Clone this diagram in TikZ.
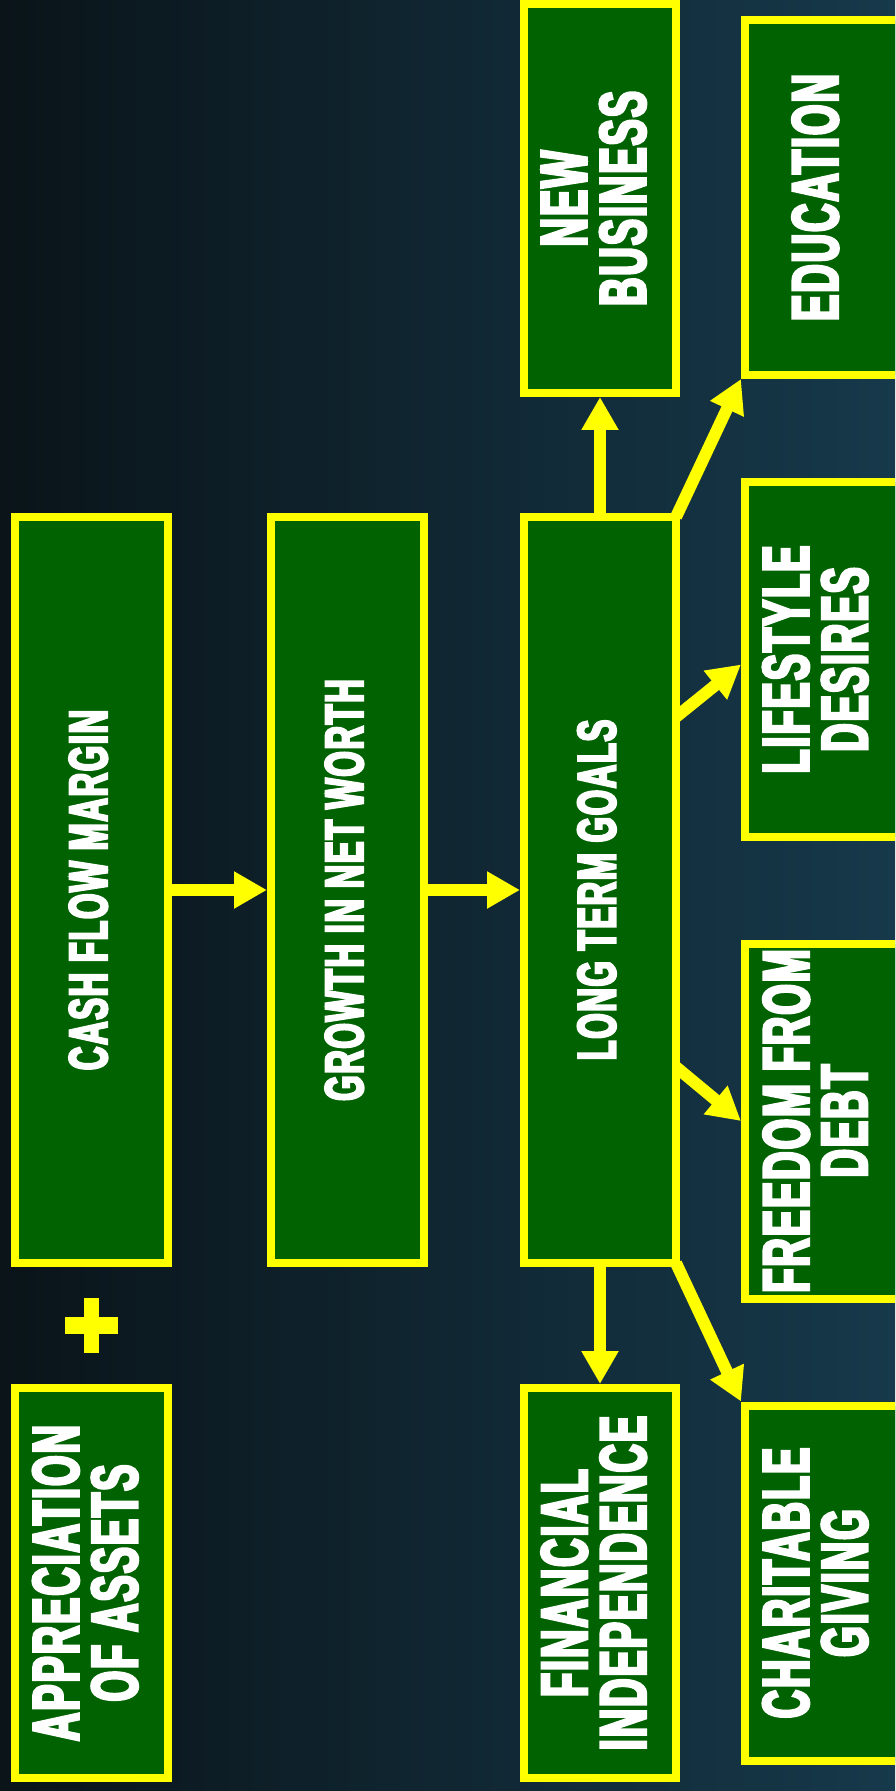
\documentclass[tikz,border=0pt]{standalone}
\usepackage{graphicx}
\usepackage{fontspec}
\usetikzlibrary{arrows.meta}
\newfontfamily\imp{Liberation Sans}[UprightFont=* Bold, FakeStretch=0.6, FakeBold=4, LetterSpace=3]
\definecolor{bgL}{HTML}{0A1419}
\definecolor{bgR}{HTML}{16394B}
\definecolor{boxgreen}{HTML}{006200}
\definecolor{boxyellow}{HTML}{FFFF00}
\renewcommand\arraystretch{0.722}
\newcommand\vbig[2][0pt]{{\imp\fontsize{32.8}{30}\selectfont\rotatebox{90}{\begin{tabular}{@{}c@{}}#2\end{tabular}}\hspace*{#1}}}
\newcommand\vsmall[1]{{\imp\fontsize{27.2}{16}\selectfont\rotatebox{90}{\begin{tabular}{@{}c@{}}#1\end{tabular}}}}
\tikzset{
  box/.style={draw=boxyellow, fill=boxgreen, line width=4pt, inner sep=0pt, text=white},
  arr/.style={draw=boxyellow, line width=6pt, -{Triangle[width=17.5pt,length=16.5pt]}}
}
\begin{document}
\begin{tikzpicture}[x=0.5pt, y=-0.5pt]
\useasboundingbox (0,0) rectangle (895,1791);
\clip (0,0) rectangle (895,1791);
\shade[left color=bgL, right color=bgR] (0,0) rectangle (895,1791);
% main column
\node[box, minimum width=76.5pt, minimum height=373pt] (cash) at (91.5,890) {\vsmall{CASH FLOW MARGIN}};
\node[box, minimum width=76.5pt, minimum height=373pt] (growth) at (347.5,890) {\vsmall{GROWTH IN NET WORTH}};
\node[box, minimum width=76pt, minimum height=373pt] (ltg) at (600,890) {\vsmall{LONG TERM GOALS}};
\node[box, minimum width=76pt, minimum height=194.5pt] (nb) at (600,198.5) {\vbig{NEW\\BUSINESS}};
\node[box, minimum width=76pt, minimum height=195pt] (fi) at (600,1583) {\vbig{FINANCIAL\\INDEPENDENCE}};
\node[box, minimum width=76.5pt, minimum height=195pt] (app) at (91.5,1583) {\vbig{APPRECIATION\\OF ASSETS}};
% right column
\node[box, minimum width=85pt, minimum height=177.5pt] (edu) at (830,197.5) {\vbig[8.5pt]{EDUCATION}};
\node[box, minimum width=85pt, minimum height=177.5pt] (life) at (830,659.5) {\vbig[8.5pt]{LIFESTYLE\\DESIRES}};
\node[box, minimum width=85pt, minimum height=177.5pt] (free) at (830,1121) {\vbig[8.5pt]{FREEDOM FROM\\DEBT}};
\node[box, minimum width=85pt, minimum height=177.5pt] (char) at (830,1583) {\vbig[8.5pt]{CHARITABLE\\GIVING}};
% plus sign
\fill[boxyellow] (65,1317) rectangle (118,1334);
\fill[boxyellow] (84,1298) rectangle (99,1353);
% connectors
\draw[arr] (cash.east) -- (growth.west);
\draw[arr] (growth.east) -- (ltg.west);
\draw[arr] (ltg.north) -- (nb.south);
\draw[arr] (ltg.south) -- (fi.north);
\draw[arr] ([shift={(-4,4)}]ltg.north east) -- (edu.south west);
\draw[arr] ([shift={(-4,-173)}]ltg.east) -- ([yshift=-2.5pt]life.west);
\draw[arr] ([shift={(-4,177)}]ltg.east) -- (free.west);
\draw[arr] ([shift={(-4,-4)}]ltg.south east) -- (char.north west);
\end{tikzpicture}
\end{document}
